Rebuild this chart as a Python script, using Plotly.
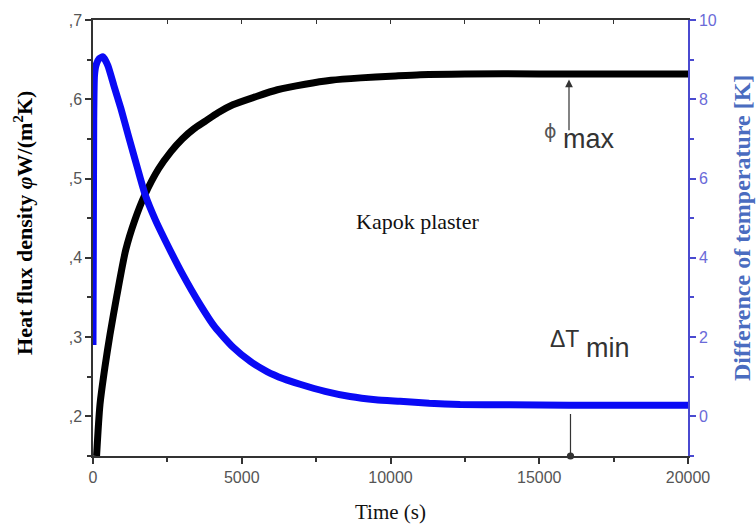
import plotly.graph_objects as go

# ---- data ----
time_flux = [120, 235, 400, 570, 800, 1100, 1400, 1750, 2200, 2620, 3000, 3400, 3760,
             4200, 4700, 5450, 6200, 7130, 8000, 9000, 10000, 11000, 12500, 15000,
             17500, 20000]
heat_flux = [0.150, 0.215, 0.262, 0.303, 0.352, 0.410, 0.447, 0.480, 0.512, 0.534,
             0.550, 0.563, 0.572, 0.583, 0.593, 0.603, 0.612, 0.619, 0.624, 0.627,
             0.629, 0.631, 0.632, 0.632, 0.632, 0.632]

time_dt = [0, 10, 25, 50, 100, 200, 336, 500, 700, 940, 1200, 1500, 1750, 2100, 2420,
           3000, 3600, 4100, 4700, 5300, 5850, 6400, 6960, 7800, 8640, 9500, 10320,
           11300, 12340, 14000, 16000, 18000, 20000]
delta_t = [1.8, 4.0, 7.5, 8.6, 8.85, 9.02, 9.07, 8.85, 8.35, 7.76, 7.05, 6.25, 5.60,
           4.95, 4.45, 3.60, 2.82, 2.25, 1.75, 1.38, 1.13, 0.95, 0.81, 0.63, 0.50,
           0.42, 0.38, 0.33, 0.30, 0.29, 0.28, 0.28, 0.28]

x_ticks = [0, 5000, 10000, 15000, 20000]
x_labels = ["0", "5000", "10000", "15000", "20000"]
y_left_ticks = [0.2, 0.3, 0.4, 0.5, 0.6, 0.7]
y_left_labels = [",2", ",3", ",4", ",5", ",6", ",7"]
y_right_ticks = [0, 2, 4, 6, 8, 10]

# annotation anchor points (time, value)
phi_arrow_t = 16000
phi_arrow_head, phi_arrow_tail = 0.625, 0.559
dt_arrow_t = 16050
dt_arrow_head, dt_arrow_tail = 0.150, 0.205

SERIF = "Liberation Serif, Times New Roman, serif"
SANS = "Liberation Sans, Arial, sans-serif"
GREY = "#555555"
BLUE_AX = "#4a4ad0"

fig = go.Figure()
fig.add_trace(go.Scatter(x=time_flux, y=heat_flux, mode="lines",
                         line=dict(color="black", width=7, shape="spline", smoothing=0.7),
                         yaxis="y", hoverinfo="skip"))
fig.add_trace(go.Scatter(x=time_dt, y=delta_t, mode="lines",
                         line=dict(color="#0a0af5", width=7, shape="spline", smoothing=0.5),
                         yaxis="y2", hoverinfo="skip"))
# carrier trace for the top frame axis
fig.add_trace(go.Scatter(x=[None], y=[None], xaxis="x2", yaxis="y", mode="lines",
                         hoverinfo="skip", showlegend=False))

fig.update_layout(
    width=756, height=525,
    margin=dict(l=93, r=68, t=18, b=69),
    paper_bgcolor="white", plot_bgcolor="white",
    showlegend=False,
    xaxis=dict(range=[0, 20000], tickvals=x_ticks, ticktext=x_labels, ticks="outside",
               ticklen=6, tickwidth=1.5, tickcolor="#333", showline=True, linecolor="#333",
               linewidth=1.5, showgrid=False, zeroline=False,
               minor=dict(dtick=2500, ticks="outside", ticklen=4, tickcolor="#333"),
               tickfont=dict(family=SANS, size=16, color=GREY)),
    xaxis2=dict(range=[0, 20000], overlaying="x", side="top", anchor="y",
                tickvals=[0, 2500, 5000, 7500, 10000, 12500, 15000, 17500, 20000],
                ticks="inside", ticklen=4, tickcolor="#333", showticklabels=False,
                showline=True, linecolor="#333", linewidth=1.5, showgrid=False,
                zeroline=False),
    yaxis=dict(range=[0.15, 0.7], tickvals=y_left_ticks, ticktext=y_left_labels,
               ticks="outside", ticklen=6, tickwidth=1.5, tickcolor="#333",
               showline=True, linecolor="#333", linewidth=1.5, showgrid=False,
               zeroline=False,
               minor=dict(dtick=0.05, tick0=0.15, ticks="outside", ticklen=4, tickcolor="#333"),
               tickfont=dict(family=SANS, size=16, color=GREY)),
    yaxis2=dict(range=[-1, 10], tickvals=y_right_ticks, overlaying="y", side="right",
                anchor="x", ticks="outside", ticklen=6, tickwidth=1.5, tickcolor=BLUE_AX,
                showline=True, linecolor=BLUE_AX, linewidth=1.5, showgrid=False,
                zeroline=False,
                minor=dict(dtick=1, ticks="outside", ticklen=4, tickcolor=BLUE_AX),
                tickfont=dict(family=SANS, size=16, color="#6a6ad8")),
)

ann = [
    dict(x=0.5, y=-0.128, xref="paper", yref="paper", text="Time (s)",
         showarrow=False, font=dict(family=SERIF, size=21, color="#111"),
         xanchor="center", yanchor="middle"),
    dict(x=-0.118, y=0.534, xref="paper", yref="paper",
         text="<b>Heat flux density <i>φ</i>W/(m<sup>2</sup>K)</b>", textangle=-90,
         showarrow=False, font=dict(family=SERIF, size=22, color="black"),
         xanchor="center", yanchor="middle"),
    dict(x=1.0908, y=0.523, xref="paper", yref="paper",
         text="<b>Difference of temperature [K]</b>", textangle=-90,
         showarrow=False, font=dict(family=SERIF, size=24, color="#4a6cc0"),
         xanchor="center", yanchor="middle"),
    dict(x=0.546, y=0.537, xref="paper", yref="paper", text="Kapok plaster",
         showarrow=False, font=dict(family=SERIF, size=22, color="#111"),
         xanchor="center", yanchor="middle"),
    dict(x=0.784, y=0.745, xref="paper", yref="paper", text="ϕ", showarrow=False,
         font=dict(family="DejaVu Sans, sans-serif", size=19, color="#555"),
         xanchor="right", yanchor="middle"),
    dict(x=0.7866, y=0.727, xref="paper", yref="paper", text="max", showarrow=False,
         font=dict(family=SANS, size=27, color="#333"), xanchor="left", yanchor="middle"),
    dict(x=0.821, y=0.269, xref="paper", yref="paper", text="ΔT", showarrow=False,
         font=dict(family=SANS, size=23, color="#333"), xanchor="right", yanchor="middle"),
    dict(x=0.826, y=0.248, xref="paper", yref="paper", text="min", showarrow=False,
         font=dict(family=SANS, size=27, color="#333"), xanchor="left", yanchor="middle"),
    dict(x=phi_arrow_t, y=phi_arrow_head, ax=phi_arrow_t, ay=phi_arrow_tail,
         xref="x", yref="y", axref="x", ayref="y", text="", showarrow=True,
         arrowhead=2, arrowsize=1.3, arrowwidth=1.2, arrowcolor="#333"),
    dict(x=dt_arrow_t, y=dt_arrow_head, ax=dt_arrow_t, ay=dt_arrow_tail,
         xref="x", yref="y", axref="x", ayref="y", text="", showarrow=True,
         arrowhead=6, arrowsize=1.5, arrowwidth=1.2, arrowcolor="#333"),
]
fig.update_layout(annotations=ann)

fig.write_html("out.html", config={"displayModeBar": False},
               post_script="document.body.style.margin='0px';")
